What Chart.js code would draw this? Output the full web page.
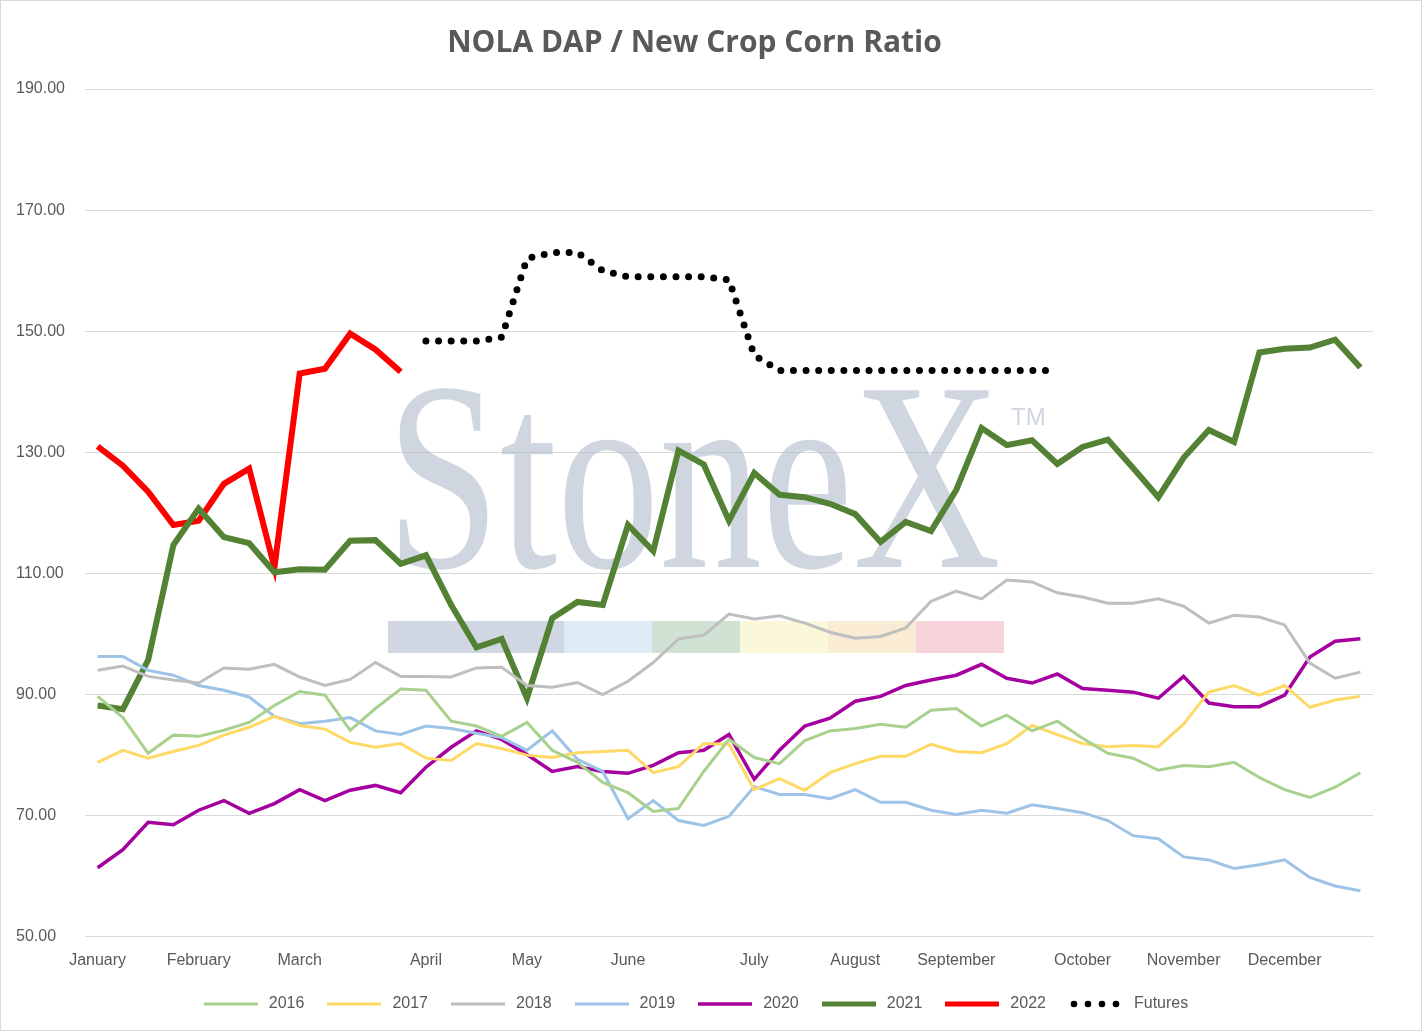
<!DOCTYPE html>
<html>
<head>
<meta charset="utf-8">
<script src="https://cdn.jsdelivr.net/npm/chart.js@4/dist/chart.umd.min.js"></script>
<style>
  html, body { margin: 0; padding: 0; background: #fff; }
  #wrap { width: 1420px; height: 1029px; border: 1px solid #d9d9d9; position: relative; }
</style>
</head>
<body>
<div id="wrap"><canvas id="myChart"></canvas></div>
<script>
// weekly points, month label at the first week of each month
const months = ['January', 'February', 'March', 'April', 'May', 'June', 'July', 'August', 'September', 'October', 'November', 'December'];
const monthWeeks = [0, 4, 8, 13, 17, 21, 26, 30, 34, 39, 43, 47];
const weeks = 51;

const y2016 = [89.7, 86.2, 80.3, 83.3, 83.1, 84.1, 85.4, 88.2, 90.5, 89.9, 84.1, 87.7, 90.9, 90.7, 85.6, 84.8, 83.1, 85.4, 80.8, 78.8, 75.5, 73.8, 70.7, 71.2, 77.3, 82.6, 79.6, 78.6, 82.4, 84, 84.4, 85.1, 84.6, 87.4, 87.7, 84.8, 86.6, 84, 85.6, 82.8, 80.3, 79.5, 77.5, 78.3, 78.1, 78.8, 76.3, 74.3, 73, 74.7, 77.1];
const y2017 = [78.8, 80.8, 79.5, 80.6, 81.6, 83.3, 84.6, 86.4, 84.9, 84.3, 82.1, 81.3, 81.9, 79.5, 79.1, 81.9, 81.1, 80, 79.6, 80.4, 80.6, 80.8, 77.1, 78.1, 81.9, 81.8, 74.3, 76.1, 74.2, 77.1, 78.6, 79.8, 79.8, 81.8, 80.6, 80.4, 81.9, 84.9, 83.4, 81.9, 81.4, 81.6, 81.4, 85.1, 90.4, 91.5, 89.9, 91.5, 87.9, 89.1, 89.7];
const y2018 = [94, 94.7, 93, 92.4, 91.9, 94.4, 94.2, 95, 92.9, 91.5, 92.5, 95.3, 93, 93, 92.9, 94.4, 94.5, 91.5, 91.2, 92, 90, 92.2, 95.3, 99.2, 99.8, 103.3, 102.5, 103, 101.8, 100.3, 99.3, 99.6, 101, 105.4, 107.1, 105.8, 108.9, 108.6, 106.8, 106.1, 105.1, 105.1, 105.8, 104.6, 101.8, 103.1, 102.8, 101.5, 95.2, 92.7, 93.7];
const y2019 = [96.3, 96.3, 94, 93.2, 91.5, 90.7, 89.6, 86.4, 85.2, 85.6, 86.2, 84, 83.4, 84.8, 84.4, 83.6, 82.9, 80.8, 84, 79.3, 77.3, 69.5, 72.5, 69.2, 68.4, 69.9, 74.8, 73.5, 73.5, 72.8, 74.3, 72.2, 72.2, 70.9, 70.2, 70.9, 70.4, 71.8, 71.2, 70.5, 69.2, 66.7, 66.2, 63.2, 62.7, 61.3, 61.9, 62.7, 59.8, 58.4, 57.6];
const y2020 = [61.4, 64.4, 68.9, 68.5, 70.9, 72.5, 70.4, 72, 74.3, 72.5, 74.2, 75, 73.8, 78, 81.3, 84, 82.6, 80.1, 77.3, 78.1, 77.3, 77, 78.3, 80.4, 80.8, 83.4, 76, 80.8, 84.8, 86.1, 88.9, 89.7, 91.5, 92.4, 93.2, 95, 92.7, 91.9, 93.4, 91, 90.7, 90.4, 89.4, 93, 88.6, 88, 88, 89.9, 96.2, 98.8, 99.2];
const y2021 = [88.2, 87.6, 95.7, 114.7, 120.7, 116, 115, 110.2, 110.7, 110.6, 115.4, 115.5, 111.6, 113, 104.8, 97.8, 99.2, 89.4, 102.6, 105.3, 104.8, 118, 113.7, 130.3, 128, 118.7, 126.6, 123, 122.6, 121.5, 119.8, 115.2, 118.5, 117, 123.8, 134, 131.2, 132, 128.1, 130.9, 132.1, 127.4, 122.6, 129.1, 133.7, 131.7, 146.5, 147.1, 147.3, 148.6, 144];
const y2022 = [131, 127.8, 123.5, 118, 118.7, 124.8, 127.3, 111, 143, 143.8, 149.6, 147, 143.3];
const futures = [null, null, null, null, null, null, null, null, null, null, null, null, null,
  148.4, 148.4, 148.4, 149, 162, 163, 163, 160, 159, 159, 159, 159, 158.5, 146, 143.5,
  143.5, 143.5, 143.5, 143.5, 143.5, 143.5, 143.5, 143.5, 143.5, 143.5, 143.5];
const yTicks = [50, 70, 90, 110, 130, 150, 170, 190];

const labels = [];
for (let i = 0; i < weeks; i++) {
  const m = monthWeeks.indexOf(i);
  labels.push(m >= 0 ? months[m] : '');
}

function series(label, data, color, width, extra) {
  return Object.assign({
    label: label, data: data, borderColor: color, backgroundColor: color,
    borderWidth: width, pointRadius: 0, tension: 0, fill: false
  }, extra || {});
}

function lineSample(color, width, dotted) {
  const cv = document.createElement('canvas');
  cv.width = 54; cv.height = 10;
  const c = cv.getContext('2d');
  c.strokeStyle = color; c.fillStyle = color;
  if (dotted) {
    for (let i = 0; i < 4; i++) {
      c.beginPath(); c.arc(5 + i * 14, 5, 3.3, 0, Math.PI * 2); c.fill();
    }
  } else {
    c.lineWidth = width;
    c.beginPath(); c.moveTo(0, 5); c.lineTo(54, 5); c.stroke();
  }
  return cv;
}

const watermark = {
  id: 'watermark',
  beforeDatasetsDraw(chart) {
    const c = chart.ctx;
    c.save();
    c.textBaseline = 'alphabetic';
    c.textAlign = 'left';
    c.fillStyle = 'rgba(168,180,198,0.55)';
    c.font = '270px "Liberation Serif", "DejaVu Serif", serif';
    const w = c.measureText('StoneX').width;
    c.translate(385, 566);
    c.scale(615 / w, 1);
    c.fillText('StoneX', 0, 0);
    c.restore();
    c.save();
    c.textBaseline = 'alphabetic';
    c.textAlign = 'left';
    c.fillStyle = 'rgba(168,180,198,0.55)';
    c.font = '24px "Liberation Sans", sans-serif';
    c.fillText('TM', 1010, 424);
    const cols = ['rgba(150,165,190,0.45)', 'rgba(150,165,190,0.45)', 'rgba(175,205,230,0.4)', 'rgba(150,190,160,0.45)',
      'rgba(245,240,170,0.45)', 'rgba(245,210,160,0.45)', 'rgba(235,160,170,0.45)'];
    const segW = 88;
    cols.forEach((col, i) => {
      c.fillStyle = col;
      c.fillRect(387 + i * segW, 620, segW, 32);
    });
    c.restore();
  }
};

const ctx = document.getElementById('myChart');

new Chart(ctx, {
  type: 'line',
  data: {
    labels: labels,
    datasets: [
      series('2016', y2016, '#a9d18e', 3),
      series('2017', y2017, '#ffd966', 3),
      series('2018', y2018, '#bfbfbf', 3),
      series('2019', y2019, '#9dc3e6', 3),
      series('2020', y2020, '#a5009f', 3.5),
      series('2021', y2021, '#548235', 6),
      series('2022', y2022, '#ff0000', 6),
      series('Futures', futures, '#000000', 7, { borderDash: [0, 12.6], borderCapStyle: 'round', spanGaps: false })
    ]
  },
  options: {
    responsive: true,
    maintainAspectRatio: false,
    animation: false,
    layout: { padding: { left: 15, right: 48, top: 0, bottom: 8 } },
    plugins: {
      title: {
        display: true,
        text: 'NOLA DAP / New Crop Corn Ratio',
        color: '#595959',
        font: { family: '"Open Sans", "Liberation Sans", sans-serif', size: 30, weight: 'bold' },
        padding: { top: 24, bottom: 28 }
      },
      legend: {
        position: 'bottom',
        labels: {
          color: '#595959',
          font: { family: '"Liberation Sans", sans-serif', size: 16 },
          padding: 20,
          usePointStyle: true,
          pointStyleWidth: 60,
          boxHeight: 10,
          generateLabels(chart) {
            return chart.data.datasets.map((ds, i) => ({
              text: ds.label,
              fontColor: '#595959',
              datasetIndex: i,
              pointStyle: lineSample(ds.borderColor, Math.min(ds.borderWidth, 5), ds.label === 'Futures'),
              hidden: false
            }));
          }
        }
      },
      tooltip: { enabled: false }
    },
    scales: {
      x: {
        offset: true,
        grid: { display: false },
        border: { color: '#d9d9d9' },
        ticks: {
          autoSkip: false, maxRotation: 0, color: '#595959', padding: 6,
          font: { family: '"Liberation Sans", sans-serif', size: 16 }
        }
      },
      y: {
        min: 50, max: 190,
        afterBuildTicks(axis) { axis.ticks = yTicks.map(v => ({ value: v })); },
        afterFit(axis) { axis.width = 69; },
        grid: { color: '#d9d9d9', drawTicks: false },
        border: { display: false },
        ticks: {
          color: '#595959', padding: 10, crossAlign: 'far',
          font: { family: '"Liberation Sans", sans-serif', size: 16 },
          callback: v => v.toFixed(2)
        }
      }
    }
  },
  plugins: [watermark]
});
</script>
</body>
</html>
